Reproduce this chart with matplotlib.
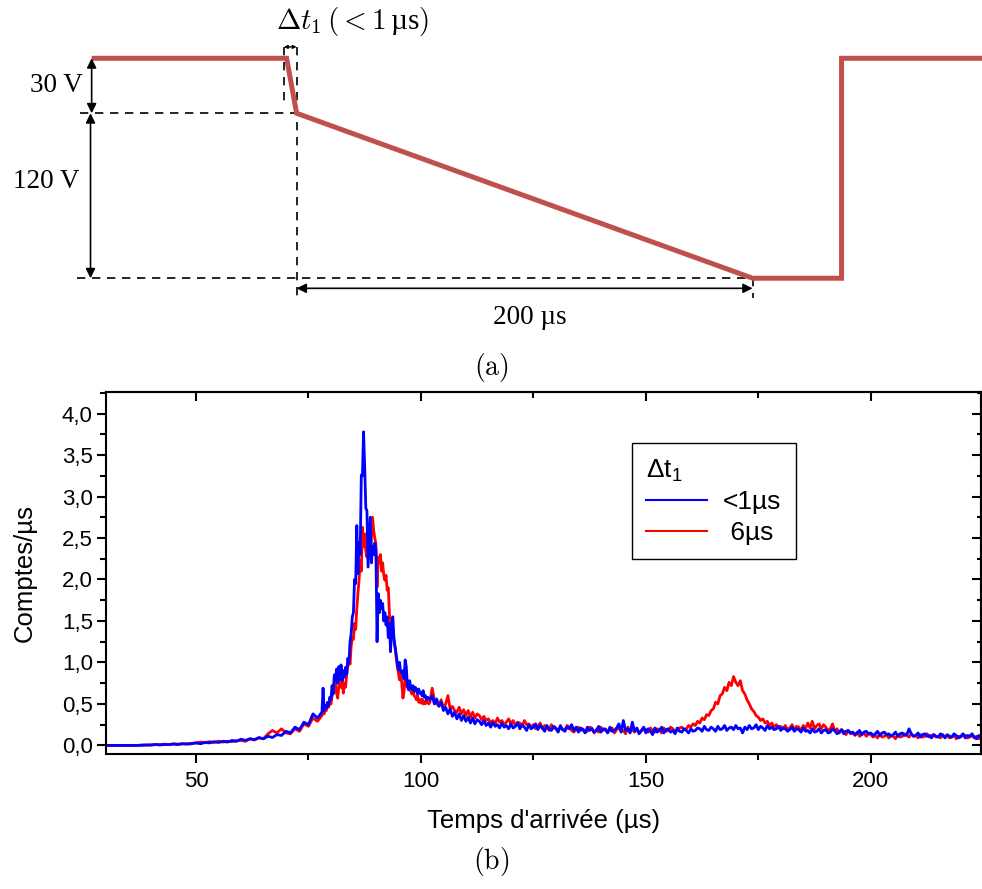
import numpy as np
import matplotlib.pyplot as plt
from matplotlib.ticker import MultipleLocator

plt.rcParams['font.family'] = ['Liberation Sans', 'DejaVu Sans']
plt.rcParams['mathtext.fontset'] = 'custom'
plt.rcParams['mathtext.rm'] = 'Liberation Sans'
plt.rcParams['mathtext.it'] = 'Liberation Sans:italic'

# (a) schematic of the pulse (time in us, drop not to scale ; voltage levels)
wave_t = [0, 85.5, 89.9, 289.9, 328.9, 328.9, 395]
wave_v = [0, 0, -30, -120, -120, 0, 0]
step_labels = ['30 V', '120 V']
ramp_label = '200 µs'
dt_label = r'$\Delta t_1\,(<1\,$µs$)$'

# (b) arrival-time spectra
t_rise = np.arange(30, 78, 1.0)
t_peak = np.arange(78, 102, 0.25)
t_tail = np.arange(102, 225.5, 0.5)

short_rise = [0, 0, 0, 0, 0, 0, 0, 0, 0.005, 0.005,
              0.005, 0.01, 0.005, 0.01, 0.01, 0.015, 0.01, 0.02, 0.015, 0.02,
              0.03, 0.02, 0.035, 0.03, 0.045, 0.035, 0.05, 0.04, 0.06, 0.05,
              0.075, 0.06, 0.08, 0.07, 0.095, 0.08, 0.11, 0.095, 0.13, 0.12,
              0.17, 0.15, 0.22, 0.19, 0.28, 0.25, 0.38, 0.33]
six_rise = [0, 0, 0, 0, 0, 0, 0, 0, 0, 0.005,
            0.005, 0.01, 0.01, 0.015, 0.01, 0.02, 0.015, 0.02, 0.02, 0.025,
            0.03, 0.04, 0.035, 0.045, 0.035, 0.05, 0.04, 0.05, 0.045, 0.055,
            0.06, 0.05, 0.08, 0.065, 0.09, 0.08, 0.14, 0.18, 0.15, 0.2,
            0.15, 0.14, 0.2, 0.17, 0.26, 0.23, 0.33, 0.29]

short_peak = [0.40, 0.69, 0.42, 0.48, 0.45, 0.52, 0.48, 0.58,
              0.55, 0.72, 0.62, 0.85, 0.78, 0.92, 0.75, 0.95,
              0.80, 0.97, 0.78, 0.90, 0.82, 0.94, 0.86, 1.05,
              1.0, 1.25, 1.35, 1.55, 1.6, 2.0, 1.95, 2.65,
              2.07, 2.45, 2.3, 3.26, 3.25, 3.78, 3.36, 2.86,
              2.83, 2.15, 2.45, 2.75, 2.2, 2.4, 2.3, 2.44,
              2.35, 1.25, 1.83, 1.6, 1.75, 1.65, 1.71, 1.5,
              1.6, 1.45, 1.55, 1.3, 1.47, 1.13, 1.42, 1.55,
              1.3, 1.19, 1.1, 1.0, 0.91, 1.0, 0.88, 0.87,
              0.9, 0.8, 1.03, 0.95, 0.72, 0.67, 0.78, 0.70,
              0.68, 0.72, 0.65, 0.70, 0.67, 0.62, 0.68, 0.63,
              0.64, 0.6, 0.66, 0.58, 0.6, 0.55, 0.58, 0.57]
six_peak = [0.36, 0.4, 0.38, 0.44, 0.42, 0.5, 0.46, 0.55,
            0.5, 0.59, 0.65, 0.72, 0.75, 0.63, 0.57, 0.7,
            0.83, 0.7, 0.78, 0.63, 0.75, 0.7, 0.85, 0.95,
            1.03, 0.98, 1.2, 1.3, 1.28, 1.47, 1.4, 1.65,
            1.83, 1.99, 2.23, 2.1, 2.63, 2.4, 2.55, 2.35,
            2.27, 2.4, 2.47, 2.3, 2.5, 2.75, 2.59, 2.5,
            2.43, 1.91, 2.27, 2.2, 2.3, 2.1, 2.2, 2.05,
            1.99, 2.05, 1.87, 1.9, 1.59, 1.45, 1.35, 1.4,
            1.25, 1.19, 1.05, 0.95, 0.87, 0.79, 0.85, 0.75,
            0.57, 0.65, 0.83, 0.78, 0.7, 0.74, 0.71, 0.65,
            0.62, 0.68, 0.6, 0.58, 0.55, 0.6, 0.52, 0.55,
            0.51, 0.56, 0.5, 0.53, 0.5, 0.55, 0.52, 0.5]

short_tail = [0.55, 0.6, 0.5, 0.56, 0.47, 0.52, 0.42, 0.46, 0.38, 0.44,
              0.35, 0.4, 0.32, 0.38, 0.3, 0.36, 0.29, 0.34, 0.27, 0.33,
              0.26, 0.31, 0.29, 0.25, 0.3, 0.24, 0.27, 0.22, 0.28, 0.23,
              0.25, 0.21, 0.27, 0.22, 0.24, 0.2, 0.26, 0.21, 0.23, 0.27,
              0.2, 0.25, 0.22, 0.18, 0.25, 0.2, 0.22, 0.26, 0.19, 0.24,
              0.21, 0.17, 0.24, 0.2, 0.18, 0.23, 0.21, 0.16, 0.24, 0.19,
              0.17, 0.22, 0.2, 0.25, 0.18, 0.22, 0.16, 0.21, 0.19, 0.15,
              0.22, 0.18, 0.2, 0.16, 0.18, 0.23, 0.16, 0.2, 0.19, 0.15,
              0.22, 0.17, 0.18, 0.21, 0.26, 0.16, 0.3, 0.18, 0.2, 0.15,
              0.28, 0.17, 0.21, 0.14, 0.18, 0.22, 0.15, 0.2, 0.17, 0.13,
              0.21, 0.16, 0.18, 0.22, 0.15, 0.19, 0.2, 0.16, 0.18, 0.14,
              0.21, 0.17, 0.16, 0.2, 0.18, 0.15, 0.2, 0.17, 0.18, 0.21,
              0.2, 0.17, 0.23, 0.19, 0.18, 0.22, 0.2, 0.17, 0.23, 0.19,
              0.2, 0.24, 0.18, 0.21, 0.22, 0.19, 0.24, 0.2, 0.21, 0.15,
              0.22, 0.19, 0.24, 0.2, 0.21, 0.25, 0.19, 0.23, 0.21, 0.18,
              0.24, 0.2, 0.22, 0.19, 0.2, 0.23, 0.18, 0.21, 0.2, 0.17,
              0.19, 0.22, 0.17, 0.2, 0.19, 0.16, 0.21, 0.17, 0.18, 0.15,
              0.2, 0.16, 0.17, 0.2, 0.15, 0.18, 0.19, 0.15, 0.16, 0.2,
              0.18, 0.14, 0.16, 0.19, 0.14, 0.17, 0.18, 0.15, 0.16, 0.13,
              0.15, 0.18, 0.13, 0.16, 0.17, 0.14, 0.15, 0.12, 0.14, 0.17,
              0.12, 0.15, 0.16, 0.13, 0.14, 0.11, 0.13, 0.16, 0.11, 0.14,
              0.15, 0.12, 0.13, 0.2, 0.14, 0.11, 0.12, 0.15, 0.1, 0.13,
              0.14, 0.11, 0.12, 0.09, 0.13, 0.11, 0.1, 0.14, 0.12, 0.09,
              0.13, 0.11, 0.1, 0.14, 0.12, 0.09, 0.11, 0.14, 0.09, 0.12,
              0.11, 0.14, 0.1, 0.08, 0.12, 0.1, 0.11]
six_tail = [0.52, 0.69, 0.55, 0.5, 0.48, 0.55, 0.45, 0.5, 0.6, 0.44,
            0.47, 0.42, 0.4, 0.46, 0.38, 0.43, 0.36, 0.42, 0.34, 0.4,
            0.33, 0.38, 0.36, 0.31, 0.35, 0.3, 0.32, 0.27, 0.3, 0.26,
            0.33, 0.28, 0.3, 0.25, 0.28, 0.32, 0.26, 0.3, 0.24, 0.28,
            0.27, 0.23, 0.3, 0.25, 0.26, 0.22, 0.25, 0.2, 0.23, 0.27,
            0.2, 0.24, 0.22, 0.18, 0.25, 0.21, 0.2, 0.17, 0.22, 0.19,
            0.19, 0.24, 0.22, 0.18, 0.16, 0.2, 0.22, 0.18, 0.2, 0.16,
            0.17, 0.22, 0.21, 0.15, 0.19, 0.16, 0.22, 0.18, 0.2, 0.16,
            0.18, 0.21, 0.15, 0.19, 0.21, 0.17, 0.18, 0.14, 0.22, 0.17,
            0.19, 0.16, 0.2, 0.15, 0.17, 0.21, 0.19, 0.16, 0.21, 0.18,
            0.16, 0.2, 0.19, 0.15, 0.21, 0.17, 0.18, 0.22, 0.2, 0.17,
            0.18, 0.21, 0.22, 0.19, 0.2, 0.24, 0.22, 0.26, 0.24, 0.29,
            0.27, 0.33, 0.31, 0.37, 0.36, 0.42, 0.44, 0.52, 0.5, 0.6,
            0.62, 0.7, 0.66, 0.76, 0.72, 0.83, 0.76, 0.72, 0.78, 0.66,
            0.62, 0.55, 0.5, 0.44, 0.41, 0.36, 0.34, 0.3, 0.32, 0.27,
            0.29, 0.24, 0.27, 0.22, 0.25, 0.21, 0.23, 0.2, 0.24, 0.19,
            0.21, 0.25, 0.19, 0.23, 0.22, 0.18, 0.24, 0.2, 0.27, 0.21,
            0.29, 0.2, 0.24, 0.26, 0.2, 0.25, 0.22, 0.18, 0.2, 0.26,
            0.17, 0.2, 0.15, 0.19, 0.17, 0.13, 0.18, 0.14, 0.15, 0.12,
            0.16, 0.11, 0.13, 0.15, 0.11, 0.14, 0.13, 0.1, 0.12, 0.09,
            0.14, 0.1, 0.11, 0.13, 0.09, 0.12, 0.11, 0.08, 0.13, 0.1,
            0.11, 0.14, 0.12, 0.1, 0.14, 0.11, 0.12, 0.09, 0.13, 0.1,
            0.11, 0.14, 0.1, 0.12, 0.13, 0.1, 0.11, 0.09, 0.13, 0.1,
            0.12, 0.09, 0.1, 0.12, 0.08, 0.11, 0.1, 0.13, 0.12, 0.09,
            0.1, 0.12, 0.09, 0.11, 0.08, 0.1, 0.09]

series_labels = ['<1µs', ' 6µs']
y_ticks = [0, 0.5, 1.0, 1.5, 2.0, 2.5, 3.0, 3.5, 4.0]
y_ticklabels = ['0,0', '0,5', '1,0', '1,5', '2,0', '2,5', '3,0', '3,5', '4,0']
x_ticks = [50, 100, 150, 200]

t = np.concatenate([t_rise, t_peak, t_tail])
short = np.concatenate([short_rise, short_peak, short_tail])
six = np.concatenate([six_rise, six_peak, six_tail])

W, H = 982, 889
fig = plt.figure(figsize=(W / 100, H / 100), dpi=100)

# ---------------- (a) ----------------
ax_a = fig.add_axes([0, 1 - 340 / H, 1, 340 / H])
ax_a.set_xlim(-40.2, 390.5)
ax_a.set_ylim(-153.7, 31.8)
ax_a.axis('off')

t_drop0, t_drop1, t_end = wave_t[1], wave_t[2], wave_t[3]
v_top, v_mid, v_low = wave_v[0], wave_v[2], wave_v[3]

dash = dict(color='k', lw=1.2, ls=(0, (5, 4)))
ax_a.plot([-5.1, t_drop1], [v_mid, v_mid], **dash)
ax_a.plot([-6.6, t_end], [v_low, v_low], **dash)
ax_a.plot([t_drop1, t_drop1], [6.2, -130.8], **dash)
ax_a.plot([t_drop0 - 1.2, t_drop0 - 1.2], [6.2, -24.4], **dash)
ax_a.plot([t_end, t_end], [v_low, -130.8], **dash)

ax_a.plot(wave_t, wave_v, color='#C0504D', lw=3.6,
          solid_joinstyle='miter', solid_capstyle='butt')

arrow = dict(arrowstyle='<|-|>', color='k', lw=1.2, mutation_scale=14,
             shrinkA=0, shrinkB=0)
ax_a.annotate('', xy=(0, v_top), xytext=(0, v_mid), arrowprops=arrow)
ax_a.annotate('', xy=(-0.5, v_mid), xytext=(-0.5, v_low), arrowprops=arrow)
ax_a.annotate('', xy=(t_drop1, -125.5), xytext=(t_end, -125.5), arrowprops=arrow)
ax_a.annotate('', xy=(t_drop0 - 1.2, 6.2), xytext=(t_drop1, 6.2),
              arrowprops=dict(arrowstyle='<|-|>', color='k', lw=1.0,
                              mutation_scale=5, shrinkA=0, shrinkB=0))

serif = dict(family='Liberation Serif', fontsize=19.5, ha='center', va='center')
ax_a.text(-15.6, (v_top + v_mid) / 2, step_labels[0], **serif)
ax_a.text(-20, -67, step_labels[1], **serif)
ax_a.text(192.2, -141.6, ramp_label, **serif)
ax_a.text(114.2, 19.8, dt_label, family='Liberation Serif', fontsize=21,
          ha='center', va='center', math_fontfamily='cm')

fig.text(0.5, 1 - 367 / H, r'$\mathrm{(a)}$', fontsize=20, ha='center',
         va='center', math_fontfamily='cm')
fig.text(0.5, 1 - 862 / H, r'$\mathrm{(b)}$', fontsize=20, ha='center',
         va='center', math_fontfamily='cm')

# ---------------- (b) ----------------
ax = fig.add_axes([106 / W, 1 - 753.7 / H, 875 / W, 361.7 / H])
l_six, = ax.plot(t, six, color='#FF0000', lw=2.0)
l_short, = ax.plot(t, short, color='#0000FF', lw=2.0)
ax.set_xlim(30, 224.5)
ax.set_ylim(-0.1, 4.26)

ax.set_xticks(x_ticks)
ax.xaxis.set_minor_locator(MultipleLocator(25))
ax.set_yticks(y_ticks)
ax.set_yticklabels(y_ticklabels)
ax.yaxis.set_minor_locator(MultipleLocator(0.25))
ax.tick_params(which='both', direction='out', width=1.5, labelsize=16)
ax.tick_params(which='major', length=6.5)
ax.tick_params(which='minor', length=4)
ax.tick_params(axis='y', pad=3)
ax.tick_params(axis='x', pad=6)
for s in ax.spines.values():
    s.set_linewidth(1.5)

secx = ax.secondary_xaxis('top')
secx.set_xticks(x_ticks)
secx.xaxis.set_minor_locator(MultipleLocator(25))
secx.tick_params(which='both', direction='in', width=1.5, labeltop=False)
secx.tick_params(which='major', length=6.5)
secx.tick_params(which='minor', length=4)
secy = ax.secondary_yaxis('right')
secy.set_yticks(y_ticks)
secy.yaxis.set_minor_locator(MultipleLocator(0.25))
secy.tick_params(which='both', direction='in', width=1.5, labelright=False)
secy.tick_params(which='major', length=6.5)
secy.tick_params(which='minor', length=3)
for sa in (secx, secy):
    for s in sa.spines.values():
        s.set_linewidth(1.5)

ax.set_xlabel("Temps d'arrivée (µs)", fontsize=18.5, labelpad=12)
ax.set_ylabel('Comptes/µs', fontsize=18.5, labelpad=18)

leg = ax.legend([l_short, l_six], series_labels, title=r'Δt$_1$',
                loc='upper left', bbox_to_anchor=(0.601, 0.859),
                borderaxespad=0, fontsize=19, title_fontsize=19,
                frameon=True, fancybox=False, framealpha=1,
                edgecolor='k', handlelength=2.3, handletextpad=0.6,
                labelspacing=0.25, borderpad=0.55, alignment='left')
leg.get_frame().set_linewidth(1.0)
for ln in leg.get_lines():
    ln.set_linewidth(1.5)

fig.savefig('out.png', dpi=100)
